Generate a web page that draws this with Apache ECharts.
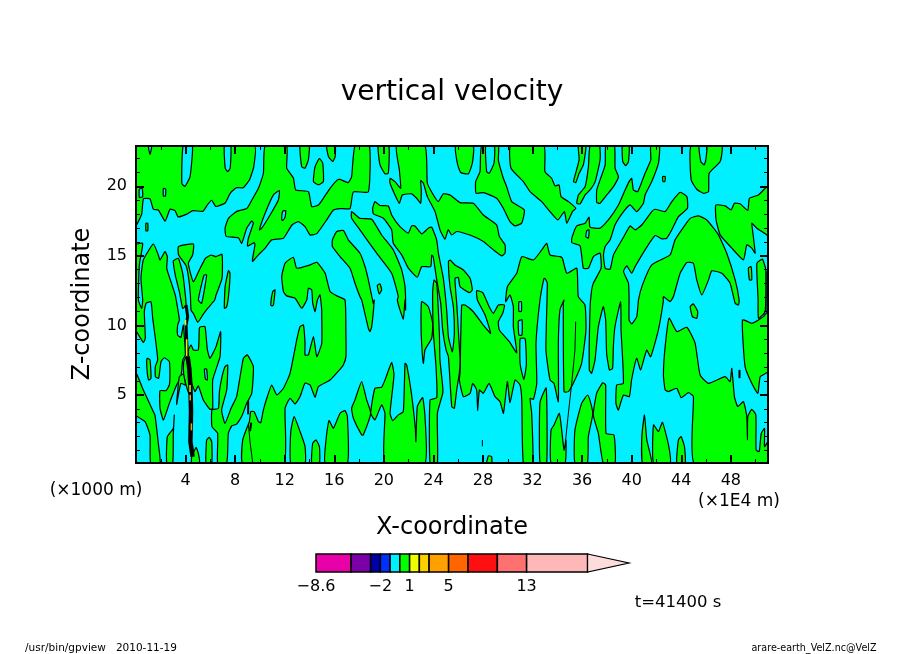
<!DOCTYPE html>
<html>
<head>
<meta charset="utf-8">
<style>html,body{margin:0;padding:0;background:#fff}#main{width:904px;height:654px}</style>
<script src="https://cdn.jsdelivr.net/npm/echarts@6/dist/echarts.min.js"></script>
</head>
<body>
<div id="main"></div>
<script>
// ticks
var xMajor = [4, 8, 12, 16, 20, 24, 28, 32, 36, 40, 44, 48];
var xMinor = [2, 6, 10, 14, 18, 22, 26, 30, 34, 38, 42, 46, 50];
var zMajor = [5, 10, 15, 20];
var zMinor = [1, 2, 3, 4, 6, 7, 8, 9, 11, 12, 13, 14, 16, 17, 18, 19, 21, 22];

// colorbar
var levels = [-8.6, -5, -3, -2, -1, 0, 1, 2, 3, 5, 7, 10, 13, 19.25];
var levelLabels = [-8.6, -2, 1, 5, 13];
var overMax = 23.5;

// ---- contours of velocity = 0, positive side, as [x, z]
var upperLeft = [[0,17.2],[.46,18],[.6,19.1],[1.13,19.1],[1.4,18.35],[1.8,18.3],[2.35,17.5],[2.75,18.35],[3.15,18.25],[3.4,17.8],[4.1,18],[4.6,18.25],[5.4,18.2],[5.75,18.65],[6.1,19],[6.45,18.55],[7.2,18.8],[7.6,19.5],[8.1,19.9],[8.65,19.9],[9.15,20.45],[9.5,21.4],[9.55,22.9],[0,22.9]];
var upperBand = [[10.42,22.9],[10.28,20.94],[9.88,19.86],[9.34,19],[8.94,18.4],[8.13,18.2],[7.46,17.7],[7.19,17],[7.27,16.4],[8.26,16.3],[8.53,15.9],[8.94,17],[9.34,17.5],[9.47,17.35],[9.07,16.27],[9,15.7],[9.53,15.95],[9.6,15.8],[9.39,14.6],[9.88,15.07],[10.42,15.55],[10.95,16.15],[11.9,16.27],[12.57,17.2],[13.1,17.46],[13.64,17.1],[14.05,16.5],[14.59,16.6],[15.4,17.6],[15.93,18.3],[16.47,18.4],[17.27,18.4],[17.54,19.6],[18.75,19.6],[18.83,22.9],[17.67,22.9],[17.4,20.7],[17.13,20.27],[16.46,20.5],[16.25,20.46],[15.66,19.86],[15.12,19.14],[14.72,18.66],[14.18,18.54],[13.91,19.62],[12.89,19.74],[12.7,20.6],[12.16,21.3],[12.16,22.9]];
var topBlob1 = [[13.24,22.9],[13.37,21.42],[13.64,21.3],[13.91,21.9],[13.97,22.9]];
var oval1 = [[14.32,20.34],[14.45,21.42],[14.8,22],[15.07,21.66],[15.12,20.34],[14.72,20.1]];
var topBlob2 = [[15.39,22.9],[15.53,22.14],[15.88,21.78],[16.07,22.14],[16.07,22.9]];
var topBlob3 = [[19.55,22.9],[19.69,21.54],[20.09,20.9],[20.36,20.94],[20.4,22.9]];
var midBand = [[21.03,22.9],[21.25,21.18],[21.36,19.86],[20.9,20.34],[20.5,20.58],[20.5,20.22],[20.9,19.38],[21.25,18.78],[21.49,19.38],[22.24,19.46],[22.65,19.14],[22.97,18.78],[23.02,19.74],[22.97,20.41],[23.19,20.22],[23.51,19.26],[24.13,18.18],[24.53,16.87],[24.93,16.2],[25.2,16.87],[25.47,16.5],[25.88,16.75],[26.95,16.5],[28.03,16.03],[28.84,15.43],[29.51,15],[29.78,15.19],[29.78,15.79],[29.32,16.39],[29.1,17.23],[28.03,17.94],[27.22,18.78],[26.15,18.83],[25.34,19.38],[24.8,19.46],[24.4,18.9],[24,19.38],[23.51,20.22],[23.32,22.9]];
var topBlob4 = [[25.8,22.9],[25.93,21.66],[26.2,20.99],[26.82,20.9],[27.14,21.66],[27.22,22.9]];
var topBlob5 = [[27.89,22.9],[27.76,21.06],[27.41,20.34],[27.44,19.5],[28.03,19.55],[29.1,19.14],[29.64,18.42],[30.18,17.46],[30.58,17.15],[31.12,17.35],[31.34,18.3],[30.32,18.9],[29.91,19.98],[29.64,20.58],[29.24,21.9],[29.24,22.9]];
var topBand6 = [[30.23,22.9],[30.26,21.3],[31.26,20.34],[31.8,19.62],[32.74,18.9],[33.41,18.18],[34.04,17.58],[34.57,18.18],[34.76,17.34],[35.22,18.18],[35.49,18.42],[34.9,18.9],[34.3,19.26],[34.14,20.1],[33.82,20.03],[33.54,20.58],[33,21.06],[32.92,22.9]];
var streak1 = [[35.7,22.9],[35.76,21.9],[35.3,20.34],[35.49,20.27],[35.76,20.94],[36.1,21.54],[36.3,22.9]];
var streak2 = [[36.64,22.9],[36.51,21.42],[36.24,19.98],[35.7,19.38],[35.57,18.78],[35.84,18.74],[36.24,19.38],[36.64,19.74],[37.05,20.34],[37.45,21.9],[37.4,22.9]];
var streak3 = [[37.91,22.9],[37.86,21.54],[37.45,20.46],[37.18,19.74],[37.18,18.83],[37.45,18.78],[37.99,19.38],[38.53,19.98],[38.93,20.7],[38.66,21.3],[38.61,22.9]];
var topBlob7 = [[39.25,22.9],[39.28,21.78],[39.52,21.49],[39.74,21.78],[39.79,22.9]];
var rightMass = [[41.54,22.9],[41.54,21.9],[41.08,20.94],[40.49,19.62],[40.14,19.74],[40,20.58],[39.79,20.34],[39.47,19.74],[38.93,18.66],[38.12,17.58],[37.45,16.99],[36.64,17.06],[36.56,17.78],[36.24,17.34],[35.57,17.15],[35.17,16.27],[35.17,15.95],[35.84,15.71],[36.1,14.11],[36.51,14.11],[36.91,14.95],[37.45,15.19],[37.53,14.11],[36.9,13.02],[36.77,12.54],[36.64,11.22],[36.58,6.79],[36.77,6.55],[37.04,7.51],[37.31,9.9],[37.71,11.34],[37.9,10.38],[37.98,7.98],[38.2,6.79],[38.46,6.91],[38.52,8.46],[38.65,9.9],[39.11,11.7],[39.14,9.66],[39.33,5.83],[38.79,5.71],[38.73,4.39],[38.92,3.91],[39.33,4.99],[39.81,4.87],[39.99,6.07],[40.4,7.63],[40.72,6.79],[41.21,8.22],[41.53,7.74],[42.15,9.66],[42.55,11.7],[42.56,12.07],[43.1,11.71],[43.37,12.07],[43.91,13.75],[44.45,14.52],[44.98,14.47],[45.25,13.27],[45.66,12.19],[46.2,13.27],[46.46,13.92],[47.27,13.75],[47.94,13.03],[48.35,11.59],[48.62,11.47],[48.67,11.83],[48.35,13.27],[47.67,15.19],[47,16.51],[46.06,17.58],[45.39,17.87],[44.72,17.7],[43.5,16.15],[43.1,15.07],[41.62,14.35],[40.87,12.91],[40.55,11.83],[40.41,10.63],[40,10.1],[39.79,10.39],[39.79,11.83],[39.74,13.03],[39.34,13.87],[39.6,14.28],[40,13.75],[40.28,14.23],[41.08,15.43],[41.89,16.46],[42.43,16.22],[42.83,16.27],[43.24,16.87],[43.77,17.82],[44.5,18.42],[44.45,19.26],[43.91,19.57],[43.24,18.9],[42.7,18.18],[41.89,18.35],[41.62,18.18],[40.81,17.22],[40.28,16.87],[39.87,17.15],[39.34,16.34],[38.53,15.07],[38.26,14.04],[37.86,14.11],[37.72,15.07],[37.86,15.67],[38.26,16.15],[38.66,17.23],[39.34,18.18],[39.87,18.66],[40.41,18.18],[40.95,18.78],[41.08,19.38],[41.62,20.34],[42.16,21.66],[42.24,22.9]];
var topBlob8 = [[44.8,22.9],[44.8,20.46],[45.25,19.79],[45.79,19.5],[46.2,19.62],[46.25,20.94],[47.14,21.78],[47.27,22.9]];
var rightBand = [[46.79,18.66],[47.54,18.59],[48.03,18.3],[48.29,18.78],[48.75,18.74],[49.37,18.26],[49.5,19.14],[50.23,19.38],[50.9,19.98],[51,20],[51,16.39],[50.9,16.51],[50.1,16.99],[49.69,17.35],[49.75,16.87],[49.96,15.19],[49.69,15.55],[49.29,15.79],[49.02,14.71],[48.08,15.55],[47.14,16.51],[46.81,17.58]];
var edgeStreak = [[50.1,14.47],[50.55,14.76],[50.82,13.99],[50.77,10.99],[50.23,10.51],[50.2,11.83]];
var edgeBlob = [[48.94,10.39],[49.15,7.03],[49.69,5.83],[50.18,5.11],[50.37,6.31],[51,6.67],[51,10.99],[50.63,10.63],[50.23,10.39],[49.69,10.15]];
var lowerRight = [[45.04,.1],[44.98,4.88],[44.58,5.16],[43.99,4.8],[43.64,5.47],[42.97,5.24],[42.7,5.36],[42.56,6.43],[42.7,8.47],[43.02,10.51],[43.64,9.55],[44.45,9.86],[45.12,8.71],[45.52,6.43],[46.2,5.83],[47.54,6.31],[47.94,5.95],[48.08,6.91],[48.29,4.88],[48.56,4.16],[49.02,4.52],[49.29,3.44],[49.34,1.76],[49.37,3.44],[49.69,3.96],[50.02,3.56],[50.04,1.04],[50.29,.92],[50.45,2.22],[50.72,2.58],[50.72,1.28],[51,1.64],[51,.1]];
var oval2 = [[44.72,11.35],[44.98,11.54],[45.33,10.99],[45.25,10.51],[44.9,10.63]];
var oval3 = [[49.42,14.11],[49.64,14.23],[49.69,13.27],[49.5,13.27]];
var oval4 = [[42.5,20.7],[42.7,20.7],[42.68,20.34],[42.52,20.34]];
var lobeA = [[40.87,.1],[40.82,2],[41.03,3.56],[41.22,1.76],[41.62,.1]];
var lobeB = [[41.76,.1],[41.76,2.84],[42.16,2.36],[42.48,3.03],[42.97,1.4],[43.1,.1]];
var lobeC = [[43.64,.1],[43.77,1.76],[43.99,2],[44.26,1.28],[44.31,.1]];
var lobeD = [[33.49,.1],[33.49,2.47],[33.73,2.83],[34.16,3.67],[34.35,2.47],[34.54,1.03],[34.7,1.75],[34.62,.1]];
var lobeE = [[32.6,.1],[32.6,4.45],[33.1,5.5],[33.14,.1]];
var lobeF = [[35.42,.1],[35.42,2.47],[35.96,4.39],[36.45,4.99],[36.77,4.15],[36.85,3.55],[36.5,1.99],[36.42,.1]];
var lobeG = [[37.66,5.87],[37.17,5.11],[36.9,3.55],[37.31,2.23],[37.71,.1],[38.65,.1],[38.57,2.11],[37.93,2.23],[37.9,5.71]];
var centreMass = [[26.15,6.55],[26.28,11.46],[26.55,11.46],[27.22,10.98],[28.03,10.02],[28.62,9.42],[28.17,10.74],[27.55,11.82],[27.49,12.49],[27.98,12.35],[28.52,11.3],[28.84,10.86],[29.24,11.46],[29.73,11.46],[29.59,10.86],[29.24,10.26],[29.32,9.66],[30.13,8.83],[30.72,8.03],[30.45,9.9],[30.45,11.34],[30.18,12.18],[29.83,11.7],[29.97,12.78],[30.72,13.74],[31.13,14.94],[32.07,14.7],[32.74,15.42],[33.14,15.9],[33.41,15.06],[34.22,14.94],[34.41,14.83],[34.76,13.75],[35.57,14.11],[35.69,12.06],[36.23,11.46],[36.31,9.66],[35.96,7.27],[35.29,5.83],[34.89,5.23],[34.54,5.23],[34.48,11.58],[34.54,11.82],[34.21,11.1],[34.08,8.7],[34.08,4.51],[33.73,5.83],[33.41,6.07],[33.08,8.22],[33.19,13.02],[33,13.38],[32.92,13.38],[32.6,11.82],[32.28,8.71],[32.34,5.83],[32.07,4.68],[31.8,4.75],[31.93,3.67],[32.01,.1],[31.26,.1],[31.13,4.63],[30.99,5.71],[30.59,6.07],[30.18,4.44],[29.97,5.95],[29.65,3.67],[29.38,4.51],[28.97,4.87],[28.49,5.83],[28.03,5.11],[27.71,5.35],[27.57,3.86],[27.49,5.35],[27.17,5.83],[26.96,5.11],[26.42,4.87],[26.09,6.07]];
var midBand2 = [[19.1,18.42],[19.28,18.9],[19.69,18.62],[20.36,18.59],[20.63,17.94],[21.3,17.1],[21.97,16.63],[22.24,17.15],[22.51,17.15],[23.05,16.58],[23.59,16.99],[23.86,17.06],[24.26,16.15],[24.4,15.19],[24.8,13.38],[25.07,11.1],[25.21,9.18],[25.53,8.1],[25.69,9.42],[25.61,11.34],[25.34,12.78],[25.21,14.58],[25.34,14.7],[25.74,14.34],[26.42,13.98],[26.96,13.38],[27.14,12.54],[26.9,12.35],[26.15,12.78],[26.01,13.45],[25.74,13.38],[25.88,11.58],[26.01,9.66],[26.15,7.51],[26.09,6.55],[25.88,5.35],[25.69,4.03],[25.48,4.15],[25.21,7.75],[25.02,8.23],[24.75,9.66],[24.59,11.58],[24.27,13.26],[23.98,14.94],[23.86,15.06],[23.78,14.22],[23.05,14.22],[22.7,13.46],[21.98,14.11],[21.44,15.07],[20.76,15.91],[20.63,16.87],[19.96,17.7],[19.15,18.02]];
var midBand3 = [[17.4,18.18],[18.07,17.7],[19.02,17.63],[19.82,16.5],[20.76,15.43],[21.44,13.99],[21.71,12.79],[21.76,11.11],[21.71,11.83],[21.57,10.46],[21.3,11.11],[21.09,11.83],[21.17,12.07],[20.63,13.75],[19.42,15.19],[18.07,16.87],[17.4,17.7]];
var oval5 = [[19.47,12.86],[19.69,12.98],[19.82,12.55],[19.63,12.26]];
var diamond = [[17.4,4.04],[17.67,4.64],[18.21,5.95],[18.61,4.64],[18.94,3.68],[18.34,2.12],[18.21,2.12],[17.54,3.32]];
var fingers = [[18.94,3.68],[19.28,5.47],[19.82,5.55],[20.09,6.07],[20.63,7.32],[20.82,6.43],[20.5,3.68],[20.71,3.15],[21.17,3.56],[21.57,3.8],[21.71,7.27],[21.84,7.15],[22.24,5],[22.54,2.6],[22.59,1.64],[22.7,4.16],[23.13,4.8],[23.32,3.44],[23.32,.1],[20.09,.1],[20.09,3.68],[19.82,4.28],[19.28,3.2]];
var blob9 = [[23.05,11.7],[23.59,11.34],[23.94,10.14],[23.86,9.07],[23.32,8.23],[23.19,7.27],[23.05,8.7],[23,10.14]];
var streak4 = [[23.73,.1],[23.73,4.63],[24.27,4.8],[24.21,7.03],[24,9.42],[23.94,12.42],[24.05,13.26],[24.27,13.02],[24.48,9.42],[24.53,7.5],[24.75,5.59],[24.75,5.1],[24.32,3.67],[24.32,.1]];
var tiny1 = [[28.3,.1],[28.44,.62],[28.7,.55],[28.7,.1]];
var band7 = [[15.85,16.15],[16.2,16.75],[16.74,16.82],[17.13,16.15],[18.07,15.19],[18.48,14.23],[18.75,13.27],[19.15,11.59],[19.23,11.83],[19.02,9.91],[18.88,9.55],[18.75,9.79],[18.21,11.83],[18.07,12.07],[17.67,13.03],[17.27,14.11],[16.46,14.95],[15.85,15.67]];
var bigLower = [[8.61,.1],[8.61,1.76],[8.94,2.6],[9.15,3.08],[9.26,3.8],[9.53,3.8],[9.88,3.08],[10.07,3],[10.28,3.92],[10.6,4.88],[10.95,5.71],[11.36,5],[11.9,5.48],[12.43,6.55],[12.97,8.95],[13.24,9.91],[13.51,10.03],[13.64,8.71],[13.64,7.87],[13.91,7.87],[14.32,9.19],[14.59,7.75],[14.99,8.71],[14.99,10.87],[14.99,11.1],[14.85,12.19],[14.64,11.83],[14.45,10.99],[14.26,11.59],[14.18,12.55],[13.91,12.67],[13.78,11.83],[13.37,11.23],[12.84,11.95],[12.16,12.12],[11.9,12.43],[11.76,13.51],[12.03,14.47],[12.7,14.9],[12.97,14.11],[14.05,14.35],[14.59,14.54],[15.26,13.75],[15.66,12.43],[16.2,12.12],[16.86,11.83],[16.94,9.43],[16.94,7.75],[16.73,7.15],[16.46,6.84],[15.66,6.07],[14.72,5.6],[14.45,4.83],[14.05,5.71],[13.64,5.84],[13.24,4.88],[12.84,4.35],[12.43,4.76],[12.03,4.04],[11.95,.1]];
var lobeH = [[12.49,.1],[12.49,2.36],[12.76,3.44],[13.24,2.36],[13.64,1.28],[13.64,.1]];
var lobeI = [[14.18,.1],[14.26,1.52],[14.53,1.76],[14.8,1.28],[14.8,.1]];
var lobeJ = [[15.26,.1],[15.39,2.22],[15.58,3.15],[15.93,2.6],[16.47,3.68],[16.87,3.87],[17.06,3.44],[17.06,.1]];
var leftMass = [[0,15.78],[.54,15.9],[.27,14.34],[.19,11.82],[.46,11.22],[.54,11.82],[.4,13.38],[.59,14.7],[1.4,15.85],[1.8,15.06],[1.94,14.7],[2.34,15.3],[2.53,14.94],[2.48,14.1],[2.82,13.14],[3.17,12.18],[3.36,11.22],[3.5,10.38],[3.36,10.02],[3.36,9.3],[3.63,9.14],[3.82,10.02],[3.93,8.83],[3.98,7.87],[3.77,7.5],[3.63,6.31],[3.28,5.71],[2.69,4.39],[2.21,3.19],[1.94,4.03],[1.94,5.3],[2.42,5.3],[2.69,5.71],[2.74,6.55],[2.69,7.39],[2.29,7.67],[2.02,7.39],[1.83,6.19],[1.56,6.31],[1.56,7.03],[1.75,7.51],[1.56,9.07],[1.35,10.5],[1.21,11.7],[.81,11.58],[.67,10.98],[.75,9.07],[.59,8.78],[.13,9.43],[0,9.66]];
var island1 = [[.89,7.63],[1.13,7.51],[1.21,6.19],[1.02,6.07],[.89,6.79]];
var leftBand = [[0,6.55],[.59,5.35],[1.4,3.79],[1.53,3.55],[1.8,1.51],[1.94,.1],[1.18,.1],[1.13,2.11],[.73,3.07],[0,3.55]];
var streak5 = [[2.48,.1],[2.53,1.99],[3.01,2.59],[3.09,3.55],[3.01,2.23],[2.96,.1]];
var tiny2 = [[4.49,.1],[4.49,.5],[4.84,1.22],[5.03,.8],[5.11,.1]];
var lobeK = [[5.65,.1],[5.7,1.75],[5.92,1.94],[6.11,1.63],[6.11,.1]];
var streak6 = [[3.01,14.63],[3.42,14.82],[3.77,13.74],[3.95,12.42],[4.04,11.46],[3.77,11.22],[3.5,12.42],[3.17,13.62]];
var knotUpper = [[3.42,15.66],[4.63,15.85],[4.57,15.06],[4.22,14.46],[4.63,13.14],[5.11,13.98],[5.6,14.82],[6.05,15.06],[6.46,14.94],[6.94,15.11],[6.94,13.38],[6.46,12.18],[6.35,11.82],[5.78,11.22],[5.38,10.74],[4.98,10.22],[4.63,10.86],[4.44,11.1],[4.39,12.18],[4.25,13.38],[4.04,14.3],[3.44,15.06]];
var knotLower = [[4.44,8.59],[4.63,8.23],[5.03,8.23],[5.11,9.79],[5.22,9.9],[5.57,9.9],[5.76,8.23],[5.97,7.63],[6.46,8.47],[6.83,9.55],[6.78,7.75],[6.19,6.07],[6.19,4.03],[5.97,3.96],[5.43,4.63],[5.03,5.64],[4.76,5.23],[4.49,5.83],[4.44,5.47],[4.25,5.11],[4.04,5.71],[3.85,6.43],[3.85,7.39],[4.04,7.75],[4.17,8.11]];
var streak7 = [[3.28,4.32],[3.36,5.23],[3.5,6.31],[3.82,6.5],[3.98,5.71],[3.63,5.83],[3.44,5.11]];
var band8 = [[6.13,3.91],[6.65,4.03],[6.73,5.23],[6.94,6.31],[7.18,7.03],[7.4,7.15],[7.32,5.35],[6.91,3.91],[7.18,2.95],[7.67,4.03],[8.12,4.87],[8.66,7.63],[8.99,7.87],[9.47,7.03],[9.34,5.11],[8.93,4.39],[8.58,3.55],[8.12,2.9],[7.72,2.76],[7.45,2.23],[7.32,.1],[6.59,.1],[6.59,2.23],[6.13,2.71]];
var small1 = [[10.87,11.47],[11.03,12.43],[11.22,12.55],[11.09,11.47],[10.98,11.4]];
var small2 = [[7.13,11.23],[7.19,12.79],[7.46,13.94],[7.59,13.75],[7.46,12.07],[7.3,11.3]];
var small3 = [[.8,17.35],[.95,17.35],[.95,16.8],[.8,16.8]];
var greenAreas = [upperLeft, upperBand, topBlob1, oval1, topBlob2, topBlob3, midBand, topBlob4, topBlob5, topBand6, streak1, streak2, streak3, topBlob7, rightMass, topBlob8, rightBand, edgeStreak, edgeBlob, lowerRight, oval2, oval3, oval4, lobeA, lobeB, lobeC, lobeD, lobeE, lobeF, lobeG, centreMass, midBand2, midBand3, oval5, diamond, fingers, blob9, streak4, tiny1, band7, bigLower, lobeH, lobeI, lobeJ, leftMass, island1, leftBand, streak5, tiny2, lobeK, streak6, knotUpper, knotLower, streak7, band8, small1, small2, small3];

// ---- negative pockets inside the green areas
var hole1 = [[3.8,22.9],[3.7,20.2],[3.95,20],[4.36,20.7],[4.55,22.9]];
var hole2 = [[7.13,22.9],[7.2,21.3],[7.4,21.05],[7.6,21.3],[7.65,22.9]];
var hole3 = [[1,22.9],[1.13,22.3],[1.27,22.9]];
var hole4 = [[.27,19.8],[.5,19.85],[.54,19.25],[.27,19.2]];
var hole5 = [[2.21,19.85],[2.4,19.8],[2.37,19.3],[2.21,19.3]];
var hole6 = [[9.96,16.87],[10.42,18.06],[11.09,19.38],[11.57,19.7],[11.49,19.02],[10.82,17.94],[10.15,16.99]];
var hole7 = [[11.76,17.6],[11.84,18.2],[12.08,18.26],[12.03,17.78],[11.84,17.54]];
var hole8 = [[28.22,22.9],[28.3,21.06],[28.51,20.94],[28.89,21.66],[28.92,22.9]];
var hole9 = [[36.3,16.39],[36.38,16.82],[36.56,16.87],[36.51,16.27]];
var hole10 = [[45.44,22.9],[45.58,21.78],[45.85,21.54],[45.98,21.9],[46.06,22.9]];
var hole11 = [[5.49,13.62],[5.7,13.62],[5.3,11.58],[5.03,11.82]];
var hole12 = [[5.52,6.86],[5.7,6.86],[5.76,6.07],[5.6,6.14]];
var hole13 = [[31,9.05],[31.4,9.05],[31.5,7.2],[31.3,6.1],[31,7.2]];
var hole14 = [[30.9,11.7],[31.1,11.7],[31.1,11],[30.9,11]];
var hole15 = [[30.85,10.3],[31.15,10.4],[31.15,9.3],[30.9,9.3]];
var cyanHoles = [hole1, hole2, hole3, hole4, hole5, hole6, hole7, hole8, hole9, hole10, hole11, hole12, hole13, hole14, hole15];

// ---- single contour lines that are too narrow to show a fill
var sliver1 = [[9.07,2.96],[9.2,1.63],[9.42,.1]];
var sliver2 = [[34.64,1.51],[34.89,3.67],[35.16,5.83],[35.42,8.22],[35.48,10.26]];
var sliver3 = [[27.95,1.75],[27.95,1.3]];
var sliver4 = [[50.85,13.9],[50.85,11]];
var thinLines = [sliver1, sliver2, sliver3, sliver4];
// dense contours around x=4
var denseUpper = [[4.04,11.46],[4.17,10.62],[4.04,10.02],[4.09,8.83],[4.17,7.75]];
var denseLower = [[4.17,7.75],[4.3,6.9],[4.39,5.71],[4.44,3.79],[4.39,1.63],[4.57,.55]];
var dense2 = [[9.05,4.6],[9.05,3.6]];
var dense3 = [[9.3,3],[9.2,2.4]];
var dense4 = [[48.7,6.8],[48.7,6.2]];
var heavyLines = [dense2, dense3, dense4];
var yellowDashes = [[[4.0,10.4],[4.0,10]], [[4.09,9],[4.09,7.8]], [[4.36,5.71],[4.36,5.2]]];
var orangeDashes = [[[4.38,5],[4.38,4.6]], [[4.47,2.95],[4.47,2.45]]];

var levelColors = ['#e800a8', '#7c00a8', '#0000a8', '#0030ff', '#00f0ff', '#00ff00', '#eeff00', '#ffd000', '#ffa000', '#ff6600', '#ff1010', '#ff7070', '#ffb8b8'];

var tickFont = 'DejaVu Sans';

function frameAxis(pos, min, max, major, minor) {
    var common = {
        type: 'value', position: pos, min: min, max: max, z: 6,
        splitLine: {show: false},
        axisLine: {show: true, onZero: false, lineStyle: {color: '#000', width: 2}},
    };
    var a = Object.assign({}, common, {
        axisTick: {show: true, inside: true, length: 8, customValues: major, lineStyle: {color: '#000', width: 2}},
        axisLabel: {show: false},
    });
    var b = Object.assign({}, common, {
        axisTick: {show: true, inside: true, length: 4, customValues: minor, lineStyle: {color: '#000', width: 1}},
        axisLabel: {show: false},
    });
    return [a, b];
}

var xAxes = frameAxis('bottom', 0, 51, xMajor, xMinor).concat(frameAxis('top', 0, 51, xMajor, xMinor));
var yAxes = frameAxis('left', 0.1, 22.9, zMajor, zMinor).concat(frameAxis('right', 0.1, 22.9, zMajor, zMinor));
xAxes[0].axisLabel = {show: true, customValues: xMajor, margin: 10, color: '#000', fontFamily: tickFont, fontSize: 16};
yAxes[0].axisLabel = {show: true, customValues: zMajor, margin: 9, color: '#000', fontFamily: tickFont, fontSize: 16};

// colorbar axes
xAxes.push({
    type: 'value', gridIndex: 1, min: levels[0], max: overMax,
    splitLine: {show: false}, axisLine: {show: false}, axisTick: {show: false},
    axisLabel: {
        customValues: levelLabels, margin: 7, color: '#000', fontFamily: tickFont, fontSize: 16,
        formatter: function (v) { return String(v).replace('-', '\u2212'); }
    },
});
yAxes.push({type: 'value', gridIndex: 1, min: 0, max: 1, show: false});

function polySeries(list, color, z) {
    return {
        type: 'custom', xAxisIndex: 0, yAxisIndex: 0, clip: true, z: z,
        data: list.map(function (p, i) { return [i]; }),
        renderItem: function (params, api) {
            var pts = list[params.dataIndex].map(function (p) { return api.coord(p); });
            return {type: 'polygon', shape: {points: pts, smooth: 0.15}, style: {fill: color, stroke: '#000', lineWidth: 1.2}};
        },
    };
}

function lineSeries(lines, color, width, z) {
    return {
        type: 'custom', xAxisIndex: 0, yAxisIndex: 0, clip: true, z: z,
        data: lines.map(function (p, i) { return [i]; }),
        renderItem: function (params, api) {
            var pts = lines[params.dataIndex].map(function (p) { return api.coord(p); });
            return {type: 'polyline', shape: {points: pts}, style: {fill: 'none', stroke: color, lineWidth: width}};
        },
    };
}

function label(x, y, text, size) {
    return {
        type: 'text', x: x, y: y, z: 10,
        style: {text: text, fontFamily: tickFont, fontSize: size, fill: '#000', align: 'center', verticalAlign: 'middle'},
    };
}

var option = {
    animation: false,
    backgroundColor: '#fff',
    grid: [
        {left: 136, top: 146, width: 632, height: 317, show: true, backgroundColor: '#00f0ff', borderWidth: 0},
        {left: 316, top: 554, width: 313, height: 18},
    ],
    xAxis: xAxes,
    yAxis: yAxes,
    series: [
        polySeries(greenAreas, '#00ff00', 2),
        polySeries(cyanHoles, '#00f0ff', 3),
        lineSeries(thinLines, '#000', 1, 4),
        lineSeries(heavyLines, '#000', 2, 4),
        lineSeries([denseUpper], '#000', 3, 4),
        lineSeries([denseLower], '#000', 4.5, 4),
        lineSeries(yellowDashes, '#f0f000', 1.5, 5),
        lineSeries(orangeDashes, '#ffa000', 1.5, 5),
        {
            type: 'custom', xAxisIndex: 4, yAxisIndex: 4, z: 2,
            data: levelColors.map(function (c, i) { return [levels[i], levels[i + 1]]; }),
            renderItem: function (params, api) {
                var a = api.coord([api.value(0), 1]);
                var b = api.coord([api.value(1), 0]);
                return {
                    type: 'rect',
                    shape: {x: a[0], y: a[1], width: b[0] - a[0], height: b[1] - a[1]},
                    style: {fill: levelColors[params.dataIndex], stroke: '#000', lineWidth: 1.5},
                };
            },
        },
        {
            type: 'custom', xAxisIndex: 4, yAxisIndex: 4, z: 3,
            data: [[levels[levels.length - 1], overMax]],
            renderItem: function (params, api) {
                return {
                    type: 'polygon',
                    shape: {points: [api.coord([api.value(0), 1]), api.coord([api.value(1), 0.5]), api.coord([api.value(0), 0])]},
                    style: {fill: '#ffdcdc', stroke: '#000', lineWidth: 1.2},
                };
            },
        },
    ],
    graphic: [
        label(452, 93, 'vertical velocity', 28),
        label(452, 528, 'X-coordinate', 24),
        label(96, 491, '(\u00d71000 m)', 17),
        label(739, 502, '(\u00d71E4 m)', 17),
        label(678, 603, 't=41400 s', 16.5),
        label(101, 648, '/usr/bin/gpview   2010-11-19', 10.5),
        label(814, 648, 'arare-earth_VelZ.nc@VelZ', 9.6),
        {
            type: 'text', x: 83, y: 304, rotation: Math.PI / 2, z: 10,
            style: {text: 'Z-coordinate', fontFamily: tickFont, fontSize: 24, fill: '#000', align: 'center', verticalAlign: 'middle'},
        },
    ],
};

var chart = echarts.init(document.getElementById('main'), null, {renderer: 'canvas'});
chart.setOption(option);
</script>
</body>
</html>
